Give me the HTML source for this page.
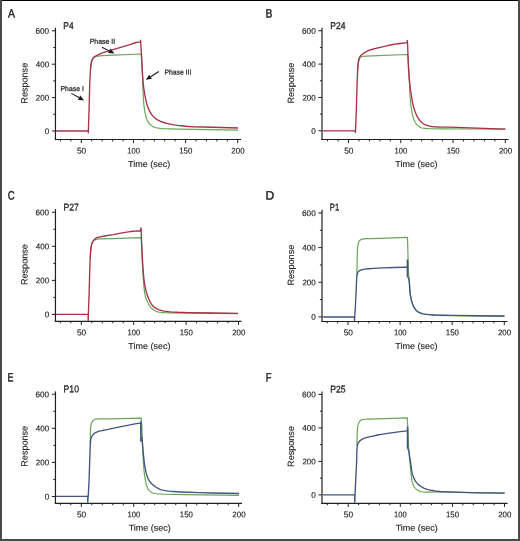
<!DOCTYPE html>
<html><head><meta charset="utf-8"><title>SPR sensorgrams</title>
<style>html,body{margin:0;padding:0;background:#fff;width:520px;height:541px;overflow:hidden}svg{display:block}</style>
</head><body>
<svg width="520" height="541" viewBox="0 0 520 541" font-family='"Liberation Sans", sans-serif' fill="#262626">
<rect x="0" y="0" width="520" height="541" fill="#ffffff"/>
<line x1="55.45" y1="27.70" x2="55.45" y2="140.10" stroke="#202020" stroke-width="1.20"/>
<line x1="54.85" y1="139.55" x2="241.00" y2="139.55" stroke="#202020" stroke-width="1.10"/>
<line x1="51.85" y1="131.00" x2="55.45" y2="131.00" stroke="#202020" stroke-width="1.00"/>
<line x1="53.35" y1="114.30" x2="55.45" y2="114.30" stroke="#202020" stroke-width="1.00"/>
<line x1="51.85" y1="97.60" x2="55.45" y2="97.60" stroke="#202020" stroke-width="1.00"/>
<line x1="53.35" y1="80.90" x2="55.45" y2="80.90" stroke="#202020" stroke-width="1.00"/>
<line x1="51.85" y1="64.20" x2="55.45" y2="64.20" stroke="#202020" stroke-width="1.00"/>
<line x1="53.35" y1="47.50" x2="55.45" y2="47.50" stroke="#202020" stroke-width="1.00"/>
<line x1="51.85" y1="30.80" x2="55.45" y2="30.80" stroke="#202020" stroke-width="1.00"/>
<line x1="60.45" y1="139.55" x2="60.45" y2="141.40" stroke="#202020" stroke-width="1.00"/>
<line x1="70.87" y1="139.55" x2="70.87" y2="141.40" stroke="#202020" stroke-width="1.00"/>
<line x1="81.30" y1="139.55" x2="81.30" y2="143.10" stroke="#202020" stroke-width="1.00"/>
<line x1="91.73" y1="139.55" x2="91.73" y2="141.40" stroke="#202020" stroke-width="1.00"/>
<line x1="102.15" y1="139.55" x2="102.15" y2="141.40" stroke="#202020" stroke-width="1.00"/>
<line x1="112.58" y1="139.55" x2="112.58" y2="141.40" stroke="#202020" stroke-width="1.00"/>
<line x1="123.01" y1="139.55" x2="123.01" y2="141.40" stroke="#202020" stroke-width="1.00"/>
<line x1="133.44" y1="139.55" x2="133.44" y2="143.10" stroke="#202020" stroke-width="1.00"/>
<line x1="143.86" y1="139.55" x2="143.86" y2="141.40" stroke="#202020" stroke-width="1.00"/>
<line x1="154.29" y1="139.55" x2="154.29" y2="141.40" stroke="#202020" stroke-width="1.00"/>
<line x1="164.72" y1="139.55" x2="164.72" y2="141.40" stroke="#202020" stroke-width="1.00"/>
<line x1="175.14" y1="139.55" x2="175.14" y2="141.40" stroke="#202020" stroke-width="1.00"/>
<line x1="185.57" y1="139.55" x2="185.57" y2="143.10" stroke="#202020" stroke-width="1.00"/>
<line x1="196.00" y1="139.55" x2="196.00" y2="141.40" stroke="#202020" stroke-width="1.00"/>
<line x1="206.42" y1="139.55" x2="206.42" y2="141.40" stroke="#202020" stroke-width="1.00"/>
<line x1="216.85" y1="139.55" x2="216.85" y2="141.40" stroke="#202020" stroke-width="1.00"/>
<line x1="227.28" y1="139.55" x2="227.28" y2="141.40" stroke="#202020" stroke-width="1.00"/>
<line x1="237.70" y1="139.55" x2="237.70" y2="143.10" stroke="#202020" stroke-width="1.00"/>
<line x1="322.00" y1="27.80" x2="322.00" y2="140.10" stroke="#202020" stroke-width="1.20"/>
<line x1="321.40" y1="139.55" x2="508.50" y2="139.55" stroke="#202020" stroke-width="1.10"/>
<line x1="318.40" y1="130.80" x2="322.00" y2="130.80" stroke="#202020" stroke-width="1.00"/>
<line x1="319.90" y1="114.12" x2="322.00" y2="114.12" stroke="#202020" stroke-width="1.00"/>
<line x1="318.40" y1="97.44" x2="322.00" y2="97.44" stroke="#202020" stroke-width="1.00"/>
<line x1="319.90" y1="80.76" x2="322.00" y2="80.76" stroke="#202020" stroke-width="1.00"/>
<line x1="318.40" y1="64.08" x2="322.00" y2="64.08" stroke="#202020" stroke-width="1.00"/>
<line x1="319.90" y1="47.40" x2="322.00" y2="47.40" stroke="#202020" stroke-width="1.00"/>
<line x1="318.40" y1="30.72" x2="322.00" y2="30.72" stroke="#202020" stroke-width="1.00"/>
<line x1="327.59" y1="139.55" x2="327.59" y2="141.40" stroke="#202020" stroke-width="1.00"/>
<line x1="338.05" y1="139.55" x2="338.05" y2="141.40" stroke="#202020" stroke-width="1.00"/>
<line x1="348.50" y1="139.55" x2="348.50" y2="143.10" stroke="#202020" stroke-width="1.00"/>
<line x1="358.95" y1="139.55" x2="358.95" y2="141.40" stroke="#202020" stroke-width="1.00"/>
<line x1="369.41" y1="139.55" x2="369.41" y2="141.40" stroke="#202020" stroke-width="1.00"/>
<line x1="379.86" y1="139.55" x2="379.86" y2="141.40" stroke="#202020" stroke-width="1.00"/>
<line x1="390.31" y1="139.55" x2="390.31" y2="141.40" stroke="#202020" stroke-width="1.00"/>
<line x1="400.76" y1="139.55" x2="400.76" y2="143.10" stroke="#202020" stroke-width="1.00"/>
<line x1="411.22" y1="139.55" x2="411.22" y2="141.40" stroke="#202020" stroke-width="1.00"/>
<line x1="421.67" y1="139.55" x2="421.67" y2="141.40" stroke="#202020" stroke-width="1.00"/>
<line x1="432.12" y1="139.55" x2="432.12" y2="141.40" stroke="#202020" stroke-width="1.00"/>
<line x1="442.58" y1="139.55" x2="442.58" y2="141.40" stroke="#202020" stroke-width="1.00"/>
<line x1="453.03" y1="139.55" x2="453.03" y2="143.10" stroke="#202020" stroke-width="1.00"/>
<line x1="463.48" y1="139.55" x2="463.48" y2="141.40" stroke="#202020" stroke-width="1.00"/>
<line x1="473.94" y1="139.55" x2="473.94" y2="141.40" stroke="#202020" stroke-width="1.00"/>
<line x1="484.39" y1="139.55" x2="484.39" y2="141.40" stroke="#202020" stroke-width="1.00"/>
<line x1="494.84" y1="139.55" x2="494.84" y2="141.40" stroke="#202020" stroke-width="1.00"/>
<line x1="505.29" y1="139.55" x2="505.29" y2="143.10" stroke="#202020" stroke-width="1.00"/>
<line x1="55.45" y1="209.20" x2="55.45" y2="321.95" stroke="#202020" stroke-width="1.20"/>
<line x1="54.85" y1="321.40" x2="241.50" y2="321.40" stroke="#202020" stroke-width="1.10"/>
<line x1="51.85" y1="314.40" x2="55.45" y2="314.40" stroke="#202020" stroke-width="1.00"/>
<line x1="53.35" y1="297.38" x2="55.45" y2="297.38" stroke="#202020" stroke-width="1.00"/>
<line x1="51.85" y1="280.36" x2="55.45" y2="280.36" stroke="#202020" stroke-width="1.00"/>
<line x1="53.35" y1="263.34" x2="55.45" y2="263.34" stroke="#202020" stroke-width="1.00"/>
<line x1="51.85" y1="246.32" x2="55.45" y2="246.32" stroke="#202020" stroke-width="1.00"/>
<line x1="53.35" y1="229.30" x2="55.45" y2="229.30" stroke="#202020" stroke-width="1.00"/>
<line x1="51.85" y1="212.28" x2="55.45" y2="212.28" stroke="#202020" stroke-width="1.00"/>
<line x1="60.34" y1="321.40" x2="60.34" y2="323.25" stroke="#202020" stroke-width="1.00"/>
<line x1="70.82" y1="321.40" x2="70.82" y2="323.25" stroke="#202020" stroke-width="1.00"/>
<line x1="81.30" y1="321.40" x2="81.30" y2="324.95" stroke="#202020" stroke-width="1.00"/>
<line x1="91.78" y1="321.40" x2="91.78" y2="323.25" stroke="#202020" stroke-width="1.00"/>
<line x1="102.26" y1="321.40" x2="102.26" y2="323.25" stroke="#202020" stroke-width="1.00"/>
<line x1="112.74" y1="321.40" x2="112.74" y2="323.25" stroke="#202020" stroke-width="1.00"/>
<line x1="123.22" y1="321.40" x2="123.22" y2="323.25" stroke="#202020" stroke-width="1.00"/>
<line x1="133.70" y1="321.40" x2="133.70" y2="324.95" stroke="#202020" stroke-width="1.00"/>
<line x1="144.18" y1="321.40" x2="144.18" y2="323.25" stroke="#202020" stroke-width="1.00"/>
<line x1="154.66" y1="321.40" x2="154.66" y2="323.25" stroke="#202020" stroke-width="1.00"/>
<line x1="165.14" y1="321.40" x2="165.14" y2="323.25" stroke="#202020" stroke-width="1.00"/>
<line x1="175.62" y1="321.40" x2="175.62" y2="323.25" stroke="#202020" stroke-width="1.00"/>
<line x1="186.10" y1="321.40" x2="186.10" y2="324.95" stroke="#202020" stroke-width="1.00"/>
<line x1="196.58" y1="321.40" x2="196.58" y2="323.25" stroke="#202020" stroke-width="1.00"/>
<line x1="207.06" y1="321.40" x2="207.06" y2="323.25" stroke="#202020" stroke-width="1.00"/>
<line x1="217.54" y1="321.40" x2="217.54" y2="323.25" stroke="#202020" stroke-width="1.00"/>
<line x1="228.02" y1="321.40" x2="228.02" y2="323.25" stroke="#202020" stroke-width="1.00"/>
<line x1="238.50" y1="321.40" x2="238.50" y2="324.95" stroke="#202020" stroke-width="1.00"/>
<line x1="322.00" y1="209.80" x2="322.00" y2="322.00" stroke="#202020" stroke-width="1.20"/>
<line x1="321.40" y1="321.45" x2="507.40" y2="321.45" stroke="#202020" stroke-width="1.10"/>
<line x1="318.40" y1="316.90" x2="322.00" y2="316.90" stroke="#202020" stroke-width="1.00"/>
<line x1="319.90" y1="299.58" x2="322.00" y2="299.58" stroke="#202020" stroke-width="1.00"/>
<line x1="318.40" y1="282.26" x2="322.00" y2="282.26" stroke="#202020" stroke-width="1.00"/>
<line x1="319.90" y1="264.94" x2="322.00" y2="264.94" stroke="#202020" stroke-width="1.00"/>
<line x1="318.40" y1="247.62" x2="322.00" y2="247.62" stroke="#202020" stroke-width="1.00"/>
<line x1="319.90" y1="230.30" x2="322.00" y2="230.30" stroke="#202020" stroke-width="1.00"/>
<line x1="318.40" y1="212.98" x2="322.00" y2="212.98" stroke="#202020" stroke-width="1.00"/>
<line x1="327.16" y1="321.45" x2="327.16" y2="323.30" stroke="#202020" stroke-width="1.00"/>
<line x1="337.58" y1="321.45" x2="337.58" y2="323.30" stroke="#202020" stroke-width="1.00"/>
<line x1="348.00" y1="321.45" x2="348.00" y2="325.00" stroke="#202020" stroke-width="1.00"/>
<line x1="358.42" y1="321.45" x2="358.42" y2="323.30" stroke="#202020" stroke-width="1.00"/>
<line x1="368.84" y1="321.45" x2="368.84" y2="323.30" stroke="#202020" stroke-width="1.00"/>
<line x1="379.26" y1="321.45" x2="379.26" y2="323.30" stroke="#202020" stroke-width="1.00"/>
<line x1="389.68" y1="321.45" x2="389.68" y2="323.30" stroke="#202020" stroke-width="1.00"/>
<line x1="400.10" y1="321.45" x2="400.10" y2="325.00" stroke="#202020" stroke-width="1.00"/>
<line x1="410.52" y1="321.45" x2="410.52" y2="323.30" stroke="#202020" stroke-width="1.00"/>
<line x1="420.94" y1="321.45" x2="420.94" y2="323.30" stroke="#202020" stroke-width="1.00"/>
<line x1="431.36" y1="321.45" x2="431.36" y2="323.30" stroke="#202020" stroke-width="1.00"/>
<line x1="441.78" y1="321.45" x2="441.78" y2="323.30" stroke="#202020" stroke-width="1.00"/>
<line x1="452.20" y1="321.45" x2="452.20" y2="325.00" stroke="#202020" stroke-width="1.00"/>
<line x1="462.62" y1="321.45" x2="462.62" y2="323.30" stroke="#202020" stroke-width="1.00"/>
<line x1="473.04" y1="321.45" x2="473.04" y2="323.30" stroke="#202020" stroke-width="1.00"/>
<line x1="483.46" y1="321.45" x2="483.46" y2="323.30" stroke="#202020" stroke-width="1.00"/>
<line x1="493.88" y1="321.45" x2="493.88" y2="323.30" stroke="#202020" stroke-width="1.00"/>
<line x1="504.30" y1="321.45" x2="504.30" y2="325.00" stroke="#202020" stroke-width="1.00"/>
<line x1="55.45" y1="391.40" x2="55.45" y2="503.90" stroke="#202020" stroke-width="1.20"/>
<line x1="54.85" y1="503.35" x2="242.00" y2="503.35" stroke="#202020" stroke-width="1.10"/>
<line x1="51.85" y1="496.50" x2="55.45" y2="496.50" stroke="#202020" stroke-width="1.00"/>
<line x1="53.35" y1="479.45" x2="55.45" y2="479.45" stroke="#202020" stroke-width="1.00"/>
<line x1="51.85" y1="462.40" x2="55.45" y2="462.40" stroke="#202020" stroke-width="1.00"/>
<line x1="53.35" y1="445.35" x2="55.45" y2="445.35" stroke="#202020" stroke-width="1.00"/>
<line x1="51.85" y1="428.30" x2="55.45" y2="428.30" stroke="#202020" stroke-width="1.00"/>
<line x1="53.35" y1="411.25" x2="55.45" y2="411.25" stroke="#202020" stroke-width="1.00"/>
<line x1="51.85" y1="394.20" x2="55.45" y2="394.20" stroke="#202020" stroke-width="1.00"/>
<line x1="60.31" y1="503.35" x2="60.31" y2="505.20" stroke="#202020" stroke-width="1.00"/>
<line x1="70.81" y1="503.35" x2="70.81" y2="505.20" stroke="#202020" stroke-width="1.00"/>
<line x1="81.30" y1="503.35" x2="81.30" y2="506.90" stroke="#202020" stroke-width="1.00"/>
<line x1="91.79" y1="503.35" x2="91.79" y2="505.20" stroke="#202020" stroke-width="1.00"/>
<line x1="102.29" y1="503.35" x2="102.29" y2="505.20" stroke="#202020" stroke-width="1.00"/>
<line x1="112.78" y1="503.35" x2="112.78" y2="505.20" stroke="#202020" stroke-width="1.00"/>
<line x1="123.27" y1="503.35" x2="123.27" y2="505.20" stroke="#202020" stroke-width="1.00"/>
<line x1="133.76" y1="503.35" x2="133.76" y2="506.90" stroke="#202020" stroke-width="1.00"/>
<line x1="144.26" y1="503.35" x2="144.26" y2="505.20" stroke="#202020" stroke-width="1.00"/>
<line x1="154.75" y1="503.35" x2="154.75" y2="505.20" stroke="#202020" stroke-width="1.00"/>
<line x1="165.24" y1="503.35" x2="165.24" y2="505.20" stroke="#202020" stroke-width="1.00"/>
<line x1="175.74" y1="503.35" x2="175.74" y2="505.20" stroke="#202020" stroke-width="1.00"/>
<line x1="186.23" y1="503.35" x2="186.23" y2="506.90" stroke="#202020" stroke-width="1.00"/>
<line x1="196.72" y1="503.35" x2="196.72" y2="505.20" stroke="#202020" stroke-width="1.00"/>
<line x1="207.22" y1="503.35" x2="207.22" y2="505.20" stroke="#202020" stroke-width="1.00"/>
<line x1="217.71" y1="503.35" x2="217.71" y2="505.20" stroke="#202020" stroke-width="1.00"/>
<line x1="228.20" y1="503.35" x2="228.20" y2="505.20" stroke="#202020" stroke-width="1.00"/>
<line x1="238.69" y1="503.35" x2="238.69" y2="506.90" stroke="#202020" stroke-width="1.00"/>
<line x1="322.00" y1="391.40" x2="322.00" y2="503.90" stroke="#202020" stroke-width="1.20"/>
<line x1="321.40" y1="503.35" x2="507.60" y2="503.35" stroke="#202020" stroke-width="1.10"/>
<line x1="318.40" y1="494.90" x2="322.00" y2="494.90" stroke="#202020" stroke-width="1.00"/>
<line x1="319.90" y1="478.15" x2="322.00" y2="478.15" stroke="#202020" stroke-width="1.00"/>
<line x1="318.40" y1="461.40" x2="322.00" y2="461.40" stroke="#202020" stroke-width="1.00"/>
<line x1="319.90" y1="444.65" x2="322.00" y2="444.65" stroke="#202020" stroke-width="1.00"/>
<line x1="318.40" y1="427.90" x2="322.00" y2="427.90" stroke="#202020" stroke-width="1.00"/>
<line x1="319.90" y1="411.15" x2="322.00" y2="411.15" stroke="#202020" stroke-width="1.00"/>
<line x1="318.40" y1="394.40" x2="322.00" y2="394.40" stroke="#202020" stroke-width="1.00"/>
<line x1="327.36" y1="503.35" x2="327.36" y2="505.20" stroke="#202020" stroke-width="1.00"/>
<line x1="337.78" y1="503.35" x2="337.78" y2="505.20" stroke="#202020" stroke-width="1.00"/>
<line x1="348.20" y1="503.35" x2="348.20" y2="506.90" stroke="#202020" stroke-width="1.00"/>
<line x1="358.62" y1="503.35" x2="358.62" y2="505.20" stroke="#202020" stroke-width="1.00"/>
<line x1="369.04" y1="503.35" x2="369.04" y2="505.20" stroke="#202020" stroke-width="1.00"/>
<line x1="379.46" y1="503.35" x2="379.46" y2="505.20" stroke="#202020" stroke-width="1.00"/>
<line x1="389.88" y1="503.35" x2="389.88" y2="505.20" stroke="#202020" stroke-width="1.00"/>
<line x1="400.30" y1="503.35" x2="400.30" y2="506.90" stroke="#202020" stroke-width="1.00"/>
<line x1="410.72" y1="503.35" x2="410.72" y2="505.20" stroke="#202020" stroke-width="1.00"/>
<line x1="421.14" y1="503.35" x2="421.14" y2="505.20" stroke="#202020" stroke-width="1.00"/>
<line x1="431.56" y1="503.35" x2="431.56" y2="505.20" stroke="#202020" stroke-width="1.00"/>
<line x1="441.98" y1="503.35" x2="441.98" y2="505.20" stroke="#202020" stroke-width="1.00"/>
<line x1="452.40" y1="503.35" x2="452.40" y2="506.90" stroke="#202020" stroke-width="1.00"/>
<line x1="462.82" y1="503.35" x2="462.82" y2="505.20" stroke="#202020" stroke-width="1.00"/>
<line x1="473.24" y1="503.35" x2="473.24" y2="505.20" stroke="#202020" stroke-width="1.00"/>
<line x1="483.66" y1="503.35" x2="483.66" y2="505.20" stroke="#202020" stroke-width="1.00"/>
<line x1="494.08" y1="503.35" x2="494.08" y2="505.20" stroke="#202020" stroke-width="1.00"/>
<line x1="504.50" y1="503.35" x2="504.50" y2="506.90" stroke="#202020" stroke-width="1.00"/>
<path d="M90.60 70.00 L90.90 65.82 L91.08 64.24 L91.48 62.18 L91.96 60.45 L92.27 59.68 L92.57 59.08 L92.98 58.40 L93.38 57.88 L93.83 57.43 L94.26 57.12 L94.78 56.83 L95.38 56.60 L96.82 56.23 L97.91 56.05 L99.66 55.87 L102.17 55.70 L113.85 55.11 L141.00 54.00  L141.32 55.91 L141.51 57.47 L141.73 60.18 L141.95 63.73 L142.42 74.50 L142.99 90.71 L143.48 100.07 L143.79 103.98 L144.40 108.89 L144.84 111.66 L145.31 113.94 L146.24 117.54 L146.63 118.78 L147.08 119.97 L147.75 121.34 L148.80 122.92 L150.01 124.32 L151.17 125.36 L152.20 126.10 L153.07 126.59 L154.23 127.09 L155.46 127.48 L157.02 127.87 L158.77 128.22 L160.55 128.45 L162.42 128.59 L170.19 128.94 L178.33 129.15 L238.00 130.20" fill="none" stroke="#6aa657" stroke-width="1.20" stroke-linejoin="round" stroke-linecap="butt"/>
<path d="M56.00 131.00 L88.20 131.00  L88.30 132.70  L89.04 110.56 L89.68 86.05 L89.88 80.66 L90.35 71.82 L90.72 66.80 L91.12 63.74 L91.43 62.24 L91.76 60.98 L92.16 59.91 L92.68 58.87 L93.13 58.17 L93.72 57.47 L94.37 56.86 L95.06 56.38 L97.31 55.18 L99.22 54.24 L101.29 53.31 L103.00 52.64 L104.84 52.05 L118.14 48.14 L128.13 45.14 L131.33 44.12 L135.13 42.75 L136.09 42.51 L137.08 42.33 L140.50 41.90  L140.60 40.20 L140.70 41.90  L141.64 57.69 L142.32 71.27 L142.89 79.30 L143.23 83.27 L143.63 87.07 L144.19 91.13 L144.82 94.91 L145.84 99.82 L146.82 103.83 L147.64 106.48 L148.88 109.63 L149.99 111.90 L150.61 112.97 L151.30 114.00 L152.22 115.19 L153.02 116.11 L153.86 116.98 L154.75 117.80 L156.40 119.10 L157.17 119.61 L158.26 120.22 L160.56 121.29 L163.76 122.50 L166.61 123.32 L171.46 124.42 L174.32 124.95 L177.53 125.40 L181.05 125.79 L185.60 126.21 L190.17 126.56 L193.99 126.77 L221.50 127.50 L238.00 128.00" fill="none" stroke="#a8304a" stroke-width="1.35" stroke-linejoin="round" stroke-linecap="butt"/>
<path d="M357.80 70.00 L358.06 66.21 L358.23 64.48 L358.67 61.74 L359.05 60.05 L359.48 58.81 L359.79 58.19 L360.08 57.74 L360.41 57.36 L360.73 57.10 L361.05 56.91 L361.48 56.74 L362.50 56.50 L363.39 56.36 L366.18 56.15 L372.10 55.94 L407.40 54.50  L407.69 55.46 L407.84 56.25 L408.13 59.49 L409.25 78.86 L409.72 88.45 L410.00 95.43 L410.17 98.26 L410.74 104.15 L411.39 109.01 L412.03 112.54 L412.68 115.48 L413.29 117.62 L414.21 120.06 L414.77 121.31 L415.25 122.27 L416.20 123.81 L416.77 124.53 L417.48 125.32 L418.08 125.90 L418.72 126.43 L419.57 127.01 L420.30 127.40 L421.16 127.74 L422.07 127.98 L423.53 128.22 L426.40 128.53 L429.01 128.71 L442.60 128.90 L468.49 128.99 L505.30 129.20" fill="none" stroke="#6aa657" stroke-width="1.20" stroke-linejoin="round" stroke-linecap="butt"/>
<path d="M323.00 130.80 L355.30 130.80  L355.40 132.50  L356.30 111.70 L357.12 83.23 L357.48 74.13 L357.74 68.56 L358.05 64.45 L358.32 62.07 L358.53 60.62 L358.76 59.51 L359.01 58.65 L359.34 57.79 L359.73 57.04 L360.05 56.52 L360.45 56.03 L361.77 54.75 L363.32 53.48 L365.01 52.33 L366.38 51.55 L367.92 50.83 L369.48 50.23 L371.73 49.51 L374.78 48.63 L379.10 47.55 L386.52 45.88 L391.80 44.78 L395.15 44.16 L397.96 43.72 L407.20 42.60  L407.30 40.40 L407.50 42.90  L407.72 47.58 L408.27 63.10 L408.72 71.52 L409.16 77.74 L409.64 82.73 L410.32 88.38 L411.40 95.75 L412.26 101.01 L413.00 104.58 L413.54 106.73 L414.11 108.71 L415.15 111.81 L416.46 114.99 L417.54 117.14 L418.10 118.05 L418.73 118.97 L419.63 120.14 L420.40 121.05 L421.22 121.92 L422.08 122.73 L423.20 123.60 L424.33 124.28 L425.79 124.96 L427.29 125.50 L429.21 126.06 L430.39 126.31 L431.72 126.50 L434.49 126.74 L439.26 126.96 L449.29 127.18 L470.00 127.80 L505.30 129.20" fill="none" stroke="#a8304a" stroke-width="1.35" stroke-linejoin="round" stroke-linecap="butt"/>
<path d="M90.20 258.00 L90.49 253.28 L90.92 248.68 L91.23 246.30 L91.67 244.34 L91.95 243.42 L92.26 242.58 L92.58 241.95 L92.94 241.41 L93.38 240.88 L93.96 240.35 L94.61 239.91 L95.21 239.61 L96.16 239.33 L97.70 239.10 L99.06 238.96 L101.31 238.82 L113.04 238.53 L141.20 237.60  L141.41 241.24 L141.67 248.44 L142.10 257.99 L142.92 272.95 L143.29 278.58 L143.73 284.14 L144.32 290.44 L144.65 292.98 L145.20 295.61 L145.82 297.87 L146.59 300.03 L147.58 302.23 L148.72 304.30 L150.38 306.79 L151.52 308.18 L152.16 308.81 L152.68 309.24 L153.86 310.04 L155.15 310.73 L156.49 311.31 L158.01 311.82 L159.00 312.07 L160.18 312.25 L163.13 312.54 L164.89 312.66 L168.89 312.78 L185.95 313.06 L238.00 313.60" fill="none" stroke="#6aa657" stroke-width="1.20" stroke-linejoin="round" stroke-linecap="butt"/>
<path d="M56.00 314.40 L88.10 314.40  L88.20 320.60  L88.52 309.43 L89.13 293.94 L89.79 268.23 L90.30 256.32 L90.76 250.14 L90.96 248.15 L91.18 246.59 L91.47 245.07 L91.84 243.69 L92.22 242.61 L92.69 241.66 L93.19 240.91 L93.98 240.01 L94.87 239.09 L95.69 238.41 L96.36 237.98 L97.09 237.63 L97.94 237.34 L99.11 237.04 L104.44 235.99 L113.32 234.58 L123.54 232.71 L130.18 231.64 L132.83 231.29 L135.14 231.06 L136.94 230.97 L140.60 230.90  L140.88 228.37 L141.00 227.80 L141.08 228.38 L141.20 230.90  L141.44 238.00 L142.44 258.95 L142.94 267.47 L143.38 273.21 L143.77 277.42 L144.34 282.23 L144.84 285.58 L145.44 288.60 L146.27 291.75 L147.65 296.10 L148.19 297.61 L148.78 299.08 L150.19 302.05 L150.78 303.13 L151.30 303.95 L151.85 304.72 L152.57 305.56 L153.18 306.18 L153.98 306.91 L155.36 307.95 L156.87 308.85 L158.53 309.58 L160.77 310.33 L162.65 310.80 L164.68 311.16 L168.32 311.64 L171.04 311.91 L177.78 312.28 L187.97 312.57 L211.74 313.02 L238.00 313.40" fill="none" stroke="#a8304a" stroke-width="1.35" stroke-linejoin="round" stroke-linecap="butt"/>
<path d="M356.90 276.10 L357.09 264.42 L357.35 253.27 L357.46 249.93 L357.62 247.53 L357.96 244.75 L358.36 243.03 L358.74 241.96 L359.10 241.20 L359.50 240.62 L359.92 240.21 L360.42 239.88 L360.98 239.62 L361.90 239.30 L362.54 239.13 L363.78 238.95 L366.80 238.71 L369.96 238.57 L379.80 238.30 L407.50 237.30  L408.28 266.14 L408.44 270.83 L408.64 274.10 L409.60 286.00 L409.89 291.01 L410.10 293.10 L410.57 296.21 L411.12 299.00 L411.98 302.18 L412.79 304.65 L413.21 305.69 L413.68 306.67 L414.73 308.47 L415.78 309.89 L416.37 310.52 L417.00 311.10 L418.20 311.94 L419.53 312.62 L421.39 313.33 L422.86 313.74 L424.75 314.08 L430.01 314.75 L432.49 315.01 L435.00 315.20 L440.73 315.42 L463.68 315.89 L504.50 316.50" fill="none" stroke="#6aa657" stroke-width="1.20" stroke-linejoin="round" stroke-linecap="butt"/>
<path d="M323.00 317.00 L354.40 317.00  L354.50 320.60  L355.15 310.33 L355.64 301.54 L356.58 280.26 L356.75 277.57 L357.04 275.10 L357.36 273.48 L357.56 272.91 L357.84 272.29 L358.11 271.85 L358.44 271.46 L358.95 271.02 L359.70 270.60 L360.88 270.09 L361.92 269.76 L363.34 269.43 L364.81 269.17 L368.71 268.72 L373.48 268.41 L383.59 267.93 L394.72 267.54 L406.90 267.20  L407.50 267.20 M407.50 276.70 L408.20 277.52 L408.47 277.93 L408.71 278.53 L408.92 279.45 L409.16 280.88 L409.32 282.37 L409.64 286.56 L409.92 291.30 L410.27 294.34 L410.68 296.84 L411.20 299.30 L411.81 301.62 L412.50 303.85 L413.10 305.44 L413.80 306.90 L414.73 308.47 L415.64 309.72 L416.52 310.67 L417.50 311.48 L418.57 312.15 L419.93 312.79 L421.17 313.26 L422.35 313.62 L423.39 313.85 L424.75 314.08 L431.09 314.83 L433.69 315.02 L436.58 315.17 L441.36 315.29 L452.33 315.43 L504.50 316.00" fill="none" stroke="#415580" stroke-width="1.35" stroke-linejoin="round" stroke-linecap="butt"/>
<path d="M90.20 444.00 L90.33 433.90 L90.42 430.60 L90.60 427.90 L90.92 425.35 L91.13 424.32 L91.35 423.55 L91.67 422.73 L92.03 422.07 L92.61 421.26 L93.19 420.63 L93.78 420.14 L94.40 419.78 L95.25 419.44 L96.30 419.20 L97.54 419.04 L99.66 418.92 L111.05 418.82 L141.20 418.10  L141.62 423.75 L141.84 427.60 L142.25 437.66 L142.68 450.06 L143.10 458.32 L143.67 466.56 L144.04 470.70 L144.39 473.85 L145.02 478.22 L145.57 481.28 L146.10 483.50 L146.99 486.56 L147.53 487.96 L148.20 489.20 L148.75 489.98 L149.23 490.56 L149.75 491.09 L150.31 491.57 L151.07 492.11 L151.99 492.59 L153.01 492.96 L154.13 493.24 L155.65 493.49 L158.28 493.85 L160.27 494.02 L163.27 494.18 L184.53 494.69 L239.00 495.40" fill="none" stroke="#6aa657" stroke-width="1.20" stroke-linejoin="round" stroke-linecap="butt"/>
<path d="M56.00 496.30 L87.70 496.30  L87.80 502.30  L88.46 492.15 L89.05 480.48 L89.35 472.32 L90.08 449.02 L90.27 444.95 L90.55 441.25 L90.86 439.19 L91.13 438.09 L91.44 437.17 L91.78 436.41 L92.23 435.66 L92.86 434.84 L93.50 434.16 L94.15 433.60 L94.99 433.01 L96.08 432.38 L97.35 431.77 L98.35 431.38 L99.35 431.09 L101.73 430.55 L105.09 430.03 L107.04 429.65 L117.30 427.41 L128.78 425.07 L133.50 424.21 L136.60 423.70 L138.52 423.44 L140.60 423.30 M142.00 437.00 L142.95 449.53 L143.53 455.42 L144.29 462.43 L144.83 466.29 L145.24 468.73 L146.06 472.50 L146.74 475.09 L147.48 477.22 L148.30 478.98 L148.82 479.92 L149.52 481.04 L150.74 482.70 L152.02 484.10 L153.41 485.34 L155.30 486.74 L157.21 487.95 L158.57 488.68 L160.00 489.31 L161.36 489.78 L162.87 490.17 L165.10 490.58 L168.65 491.09 L170.93 491.34 L173.57 491.54 L181.13 491.97 L199.31 492.68 L211.49 492.97 L239.00 493.50" fill="none" stroke="#415580" stroke-width="1.35" stroke-linejoin="round" stroke-linecap="butt"/>
<path d="M356.90 445.80 L357.31 431.89 L357.50 429.10 L357.85 426.23 L358.08 425.08 L358.37 424.02 L358.66 423.16 L358.98 422.48 L359.45 421.72 L360.02 420.99 L360.52 420.50 L361.10 420.10 L361.84 419.78 L362.81 419.55 L365.08 419.26 L366.80 419.13 L369.31 419.04 L377.80 418.90 L407.30 417.80  L408.17 437.53 L408.63 446.18 L408.97 451.53 L409.41 457.11 L410.30 466.76 L411.58 478.27 L411.92 480.51 L412.28 482.15 L412.76 483.68 L413.32 485.15 L413.97 486.47 L414.61 487.47 L415.36 488.37 L416.41 489.32 L417.39 490.02 L418.45 490.62 L419.55 491.13 L420.73 491.53 L421.74 491.75 L422.79 491.89 L426.73 492.12 L429.54 492.14 L440.33 491.90 L444.68 491.92 L470.00 492.60 L504.70 493.20" fill="none" stroke="#6aa657" stroke-width="1.20" stroke-linejoin="round" stroke-linecap="butt"/>
<path d="M323.00 494.90 L354.70 494.90  L354.80 502.30  L355.15 492.14 L356.60 462.30 L356.85 452.21 L356.99 448.82 L357.24 446.36 L357.57 444.74 L358.06 443.36 L358.36 442.82 L358.81 442.16 L359.56 441.22 L360.24 440.53 L361.00 439.90 L361.87 439.35 L363.07 438.76 L364.58 438.16 L366.38 437.55 L367.88 437.16 L371.75 436.36 L377.80 435.00 L381.45 434.33 L386.10 433.55 L390.70 432.86 L394.88 432.30 L402.14 431.44 L407.20 430.90 M407.60 448.60 L408.54 450.19 L408.80 450.86 L408.97 451.55 L409.13 452.52 L409.47 455.29 L410.47 461.87 L411.77 471.09 L412.13 472.72 L412.65 474.63 L413.18 476.29 L413.67 477.62 L414.49 479.39 L415.43 481.05 L416.39 482.41 L417.42 483.58 L418.80 484.88 L420.51 486.20 L422.12 487.22 L423.81 488.09 L425.42 488.75 L427.04 489.30 L429.10 489.84 L431.32 490.29 L435.00 490.90 L437.51 491.24 L439.99 491.48 L443.82 491.75 L452.95 492.14 L471.36 492.63 L482.69 492.86 L504.70 493.20" fill="none" stroke="#415580" stroke-width="1.35" stroke-linejoin="round" stroke-linecap="butt"/>
<line x1="407.50" y1="259.50" x2="407.50" y2="276.80" stroke="#415580" stroke-width="1.70"/>
<line x1="140.90" y1="421.20" x2="140.90" y2="441.70" stroke="#415580" stroke-width="1.70"/>
<line x1="407.60" y1="426.70" x2="407.60" y2="448.60" stroke="#415580" stroke-width="1.70"/>
<line x1="102.00" y1="47.20" x2="109.67" y2="51.10" stroke="#151515" stroke-width="1.05"/>
<path d="M114.40 53.50 L108.01 53.06 L109.67 51.10 L110.27 48.60 Z" fill="#151515"/>
<line x1="71.40" y1="93.40" x2="79.37" y2="97.83" stroke="#151515" stroke-width="1.05"/>
<path d="M84.00 100.40 L77.63 99.72 L79.37 97.83 L80.06 95.35 Z" fill="#151515"/>
<line x1="158.80" y1="71.50" x2="150.27" y2="76.95" stroke="#151515" stroke-width="1.05"/>
<path d="M145.80 79.80 L149.43 74.52 L150.27 76.95 L152.12 78.73 Z" fill="#151515"/>
<g style="filter:grayscale(1)">
<text x="44.63" y="133.96" transform="rotate(0.05 44.63 133.96)" font-size="8.20" textLength="4.54" lengthAdjust="spacingAndGlyphs" stroke="#262626" stroke-width="0.15">0</text>
<text x="35.85" y="100.56" transform="rotate(0.05 35.85 100.56)" font-size="8.20" textLength="13.31" lengthAdjust="spacingAndGlyphs" stroke="#262626" stroke-width="0.15">200</text>
<text x="35.77" y="67.16" transform="rotate(0.05 35.77 67.16)" font-size="8.20" textLength="13.40" lengthAdjust="spacingAndGlyphs" stroke="#262626" stroke-width="0.15">400</text>
<text x="35.53" y="33.76" transform="rotate(0.05 35.53 33.76)" font-size="8.20" textLength="13.64" lengthAdjust="spacingAndGlyphs" stroke="#262626" stroke-width="0.15">600</text>
<text x="76.97" y="153.45" transform="rotate(0.05 76.97 153.45)" font-size="8.20" textLength="9.26" lengthAdjust="spacingAndGlyphs" stroke="#262626" stroke-width="0.15">50</text>
<text x="127.26" y="153.45" transform="rotate(0.05 127.26 153.45)" font-size="8.20" textLength="12.68" lengthAdjust="spacingAndGlyphs" stroke="#262626" stroke-width="0.15">100</text>
<text x="179.17" y="153.45" transform="rotate(0.05 179.17 153.45)" font-size="8.20" textLength="13.11" lengthAdjust="spacingAndGlyphs" stroke="#262626" stroke-width="0.15">150</text>
<text x="231.36" y="153.45" transform="rotate(0.05 231.36 153.45)" font-size="8.20" textLength="13.21" lengthAdjust="spacingAndGlyphs" stroke="#262626" stroke-width="0.15">200</text>
<text transform="translate(27.45 103.64) rotate(-89.95)" font-size="9.10" textLength="40.84" lengthAdjust="spacingAndGlyphs" stroke="#262626" stroke-width="0.15">Response</text>
<text x="128.10" y="167.05" transform="rotate(0.05 128.10 167.05)" font-size="8.80" textLength="42.16" lengthAdjust="spacingAndGlyphs" stroke="#262626" stroke-width="0.15">Time (sec)</text>
<text x="7.98" y="17.50" transform="rotate(0.05 7.98 17.50)" font-size="12.10" textLength="6.94" lengthAdjust="spacingAndGlyphs" stroke="#262626" stroke-width="0.45">A</text>
<text x="63.31" y="28.90" transform="rotate(0.05 63.31 28.90)" font-size="9.80" textLength="10.23" lengthAdjust="spacingAndGlyphs" stroke="#262626" stroke-width="0.30">P4</text>
<text x="311.18" y="133.76" transform="rotate(0.05 311.18 133.76)" font-size="8.20" textLength="4.54" lengthAdjust="spacingAndGlyphs" stroke="#262626" stroke-width="0.15">0</text>
<text x="302.40" y="100.40" transform="rotate(0.05 302.40 100.40)" font-size="8.20" textLength="13.31" lengthAdjust="spacingAndGlyphs" stroke="#262626" stroke-width="0.15">200</text>
<text x="302.32" y="67.04" transform="rotate(0.05 302.32 67.04)" font-size="8.20" textLength="13.40" lengthAdjust="spacingAndGlyphs" stroke="#262626" stroke-width="0.15">400</text>
<text x="302.08" y="33.68" transform="rotate(0.05 302.08 33.68)" font-size="8.20" textLength="13.64" lengthAdjust="spacingAndGlyphs" stroke="#262626" stroke-width="0.15">600</text>
<text x="344.17" y="153.45" transform="rotate(0.05 344.17 153.45)" font-size="8.20" textLength="9.26" lengthAdjust="spacingAndGlyphs" stroke="#262626" stroke-width="0.15">50</text>
<text x="394.59" y="153.45" transform="rotate(0.05 394.59 153.45)" font-size="8.20" textLength="12.68" lengthAdjust="spacingAndGlyphs" stroke="#262626" stroke-width="0.15">100</text>
<text x="446.63" y="153.45" transform="rotate(0.05 446.63 153.45)" font-size="8.20" textLength="13.11" lengthAdjust="spacingAndGlyphs" stroke="#262626" stroke-width="0.15">150</text>
<text x="498.95" y="153.45" transform="rotate(0.05 498.95 153.45)" font-size="8.20" textLength="13.21" lengthAdjust="spacingAndGlyphs" stroke="#262626" stroke-width="0.15">200</text>
<text transform="translate(294.00 103.49) rotate(-89.95)" font-size="9.10" textLength="40.84" lengthAdjust="spacingAndGlyphs" stroke="#262626" stroke-width="0.15">Response</text>
<text x="395.30" y="167.05" transform="rotate(0.05 395.30 167.05)" font-size="8.80" textLength="42.16" lengthAdjust="spacingAndGlyphs" stroke="#262626" stroke-width="0.15">Time (sec)</text>
<text x="265.55" y="17.50" transform="rotate(0.05 265.55 17.50)" font-size="12.10" textLength="6.90" lengthAdjust="spacingAndGlyphs" stroke="#262626" stroke-width="0.45">B</text>
<text x="330.30" y="28.90" transform="rotate(0.05 330.30 28.90)" font-size="9.80" textLength="15.25" lengthAdjust="spacingAndGlyphs" stroke="#262626" stroke-width="0.30">P24</text>
<text x="44.63" y="317.36" transform="rotate(0.05 44.63 317.36)" font-size="8.20" textLength="4.54" lengthAdjust="spacingAndGlyphs" stroke="#262626" stroke-width="0.15">0</text>
<text x="35.85" y="283.32" transform="rotate(0.05 35.85 283.32)" font-size="8.20" textLength="13.31" lengthAdjust="spacingAndGlyphs" stroke="#262626" stroke-width="0.15">200</text>
<text x="35.77" y="249.28" transform="rotate(0.05 35.77 249.28)" font-size="8.20" textLength="13.40" lengthAdjust="spacingAndGlyphs" stroke="#262626" stroke-width="0.15">400</text>
<text x="35.53" y="215.24" transform="rotate(0.05 35.53 215.24)" font-size="8.20" textLength="13.64" lengthAdjust="spacingAndGlyphs" stroke="#262626" stroke-width="0.15">600</text>
<text x="76.97" y="335.30" transform="rotate(0.05 76.97 335.30)" font-size="8.20" textLength="9.26" lengthAdjust="spacingAndGlyphs" stroke="#262626" stroke-width="0.15">50</text>
<text x="127.52" y="335.30" transform="rotate(0.05 127.52 335.30)" font-size="8.20" textLength="12.68" lengthAdjust="spacingAndGlyphs" stroke="#262626" stroke-width="0.15">100</text>
<text x="179.70" y="335.30" transform="rotate(0.05 179.70 335.30)" font-size="8.20" textLength="13.11" lengthAdjust="spacingAndGlyphs" stroke="#262626" stroke-width="0.15">150</text>
<text x="232.15" y="335.30" transform="rotate(0.05 232.15 335.30)" font-size="8.20" textLength="13.21" lengthAdjust="spacingAndGlyphs" stroke="#262626" stroke-width="0.15">200</text>
<text transform="translate(27.45 285.04) rotate(-89.95)" font-size="9.10" textLength="40.84" lengthAdjust="spacingAndGlyphs" stroke="#262626" stroke-width="0.15">Response</text>
<text x="128.30" y="348.90" transform="rotate(0.05 128.30 348.90)" font-size="8.80" textLength="42.16" lengthAdjust="spacingAndGlyphs" stroke="#262626" stroke-width="0.15">Time (sec)</text>
<text x="7.71" y="199.60" transform="rotate(0.05 7.71 199.60)" font-size="12.10" textLength="6.96" lengthAdjust="spacingAndGlyphs" stroke="#262626" stroke-width="0.45">C</text>
<text x="63.59" y="210.50" transform="rotate(0.05 63.59 210.50)" font-size="9.80" textLength="15.34" lengthAdjust="spacingAndGlyphs" stroke="#262626" stroke-width="0.30">P27</text>
<text x="311.18" y="319.86" transform="rotate(0.05 311.18 319.86)" font-size="8.20" textLength="4.54" lengthAdjust="spacingAndGlyphs" stroke="#262626" stroke-width="0.15">0</text>
<text x="302.40" y="285.22" transform="rotate(0.05 302.40 285.22)" font-size="8.20" textLength="13.31" lengthAdjust="spacingAndGlyphs" stroke="#262626" stroke-width="0.15">200</text>
<text x="302.32" y="250.58" transform="rotate(0.05 302.32 250.58)" font-size="8.20" textLength="13.40" lengthAdjust="spacingAndGlyphs" stroke="#262626" stroke-width="0.15">400</text>
<text x="302.08" y="215.94" transform="rotate(0.05 302.08 215.94)" font-size="8.20" textLength="13.64" lengthAdjust="spacingAndGlyphs" stroke="#262626" stroke-width="0.15">600</text>
<text x="343.67" y="335.35" transform="rotate(0.05 343.67 335.35)" font-size="8.20" textLength="9.26" lengthAdjust="spacingAndGlyphs" stroke="#262626" stroke-width="0.15">50</text>
<text x="393.92" y="335.35" transform="rotate(0.05 393.92 335.35)" font-size="8.20" textLength="12.68" lengthAdjust="spacingAndGlyphs" stroke="#262626" stroke-width="0.15">100</text>
<text x="445.80" y="335.35" transform="rotate(0.05 445.80 335.35)" font-size="8.20" textLength="13.11" lengthAdjust="spacingAndGlyphs" stroke="#262626" stroke-width="0.15">150</text>
<text x="497.95" y="335.35" transform="rotate(0.05 497.95 335.35)" font-size="8.20" textLength="13.21" lengthAdjust="spacingAndGlyphs" stroke="#262626" stroke-width="0.15">200</text>
<text transform="translate(294.00 285.59) rotate(-89.95)" font-size="9.10" textLength="40.84" lengthAdjust="spacingAndGlyphs" stroke="#262626" stroke-width="0.15">Response</text>
<text x="395.30" y="348.95" transform="rotate(0.05 395.30 348.95)" font-size="8.80" textLength="42.16" lengthAdjust="spacingAndGlyphs" stroke="#262626" stroke-width="0.15">Time (sec)</text>
<text x="265.40" y="199.50" transform="rotate(0.05 265.40 199.50)" font-size="12.10" textLength="8.78" lengthAdjust="spacingAndGlyphs" stroke="#262626" stroke-width="0.45">D</text>
<text x="329.77" y="210.40" transform="rotate(0.05 329.77 210.40)" font-size="9.80" textLength="9.41" lengthAdjust="spacingAndGlyphs" stroke="#262626" stroke-width="0.30">P1</text>
<text x="44.63" y="499.46" transform="rotate(0.05 44.63 499.46)" font-size="8.20" textLength="4.54" lengthAdjust="spacingAndGlyphs" stroke="#262626" stroke-width="0.15">0</text>
<text x="35.85" y="465.36" transform="rotate(0.05 35.85 465.36)" font-size="8.20" textLength="13.31" lengthAdjust="spacingAndGlyphs" stroke="#262626" stroke-width="0.15">200</text>
<text x="35.77" y="431.26" transform="rotate(0.05 35.77 431.26)" font-size="8.20" textLength="13.40" lengthAdjust="spacingAndGlyphs" stroke="#262626" stroke-width="0.15">400</text>
<text x="35.53" y="397.16" transform="rotate(0.05 35.53 397.16)" font-size="8.20" textLength="13.64" lengthAdjust="spacingAndGlyphs" stroke="#262626" stroke-width="0.15">600</text>
<text x="76.97" y="517.25" transform="rotate(0.05 76.97 517.25)" font-size="8.20" textLength="9.26" lengthAdjust="spacingAndGlyphs" stroke="#262626" stroke-width="0.15">50</text>
<text x="127.59" y="517.25" transform="rotate(0.05 127.59 517.25)" font-size="8.20" textLength="12.68" lengthAdjust="spacingAndGlyphs" stroke="#262626" stroke-width="0.15">100</text>
<text x="179.83" y="517.25" transform="rotate(0.05 179.83 517.25)" font-size="8.20" textLength="13.11" lengthAdjust="spacingAndGlyphs" stroke="#262626" stroke-width="0.15">150</text>
<text x="232.35" y="517.25" transform="rotate(0.05 232.35 517.25)" font-size="8.20" textLength="13.21" lengthAdjust="spacingAndGlyphs" stroke="#262626" stroke-width="0.15">200</text>
<text transform="translate(27.45 466.69) rotate(-89.95)" font-size="9.10" textLength="40.84" lengthAdjust="spacingAndGlyphs" stroke="#262626" stroke-width="0.15">Response</text>
<text x="128.70" y="530.85" transform="rotate(0.05 128.70 530.85)" font-size="8.80" textLength="42.16" lengthAdjust="spacingAndGlyphs" stroke="#262626" stroke-width="0.15">Time (sec)</text>
<text x="7.47" y="381.50" transform="rotate(0.05 7.47 381.50)" font-size="12.10" textLength="5.91" lengthAdjust="spacingAndGlyphs" stroke="#262626" stroke-width="0.45">E</text>
<text x="63.59" y="392.30" transform="rotate(0.05 63.59 392.30)" font-size="9.80" textLength="15.45" lengthAdjust="spacingAndGlyphs" stroke="#262626" stroke-width="0.30">P10</text>
<text x="311.18" y="497.86" transform="rotate(0.05 311.18 497.86)" font-size="8.20" textLength="4.54" lengthAdjust="spacingAndGlyphs" stroke="#262626" stroke-width="0.15">0</text>
<text x="302.40" y="464.36" transform="rotate(0.05 302.40 464.36)" font-size="8.20" textLength="13.31" lengthAdjust="spacingAndGlyphs" stroke="#262626" stroke-width="0.15">200</text>
<text x="302.32" y="430.86" transform="rotate(0.05 302.32 430.86)" font-size="8.20" textLength="13.40" lengthAdjust="spacingAndGlyphs" stroke="#262626" stroke-width="0.15">400</text>
<text x="302.08" y="397.36" transform="rotate(0.05 302.08 397.36)" font-size="8.20" textLength="13.64" lengthAdjust="spacingAndGlyphs" stroke="#262626" stroke-width="0.15">600</text>
<text x="343.87" y="517.25" transform="rotate(0.05 343.87 517.25)" font-size="8.20" textLength="9.26" lengthAdjust="spacingAndGlyphs" stroke="#262626" stroke-width="0.15">50</text>
<text x="394.12" y="517.25" transform="rotate(0.05 394.12 517.25)" font-size="8.20" textLength="12.68" lengthAdjust="spacingAndGlyphs" stroke="#262626" stroke-width="0.15">100</text>
<text x="446.00" y="517.25" transform="rotate(0.05 446.00 517.25)" font-size="8.20" textLength="13.11" lengthAdjust="spacingAndGlyphs" stroke="#262626" stroke-width="0.15">150</text>
<text x="498.15" y="517.25" transform="rotate(0.05 498.15 517.25)" font-size="8.20" textLength="13.21" lengthAdjust="spacingAndGlyphs" stroke="#262626" stroke-width="0.15">200</text>
<text transform="translate(294.00 466.89) rotate(-89.95)" font-size="9.10" textLength="40.84" lengthAdjust="spacingAndGlyphs" stroke="#262626" stroke-width="0.15">Response</text>
<text x="395.70" y="530.85" transform="rotate(0.05 395.70 530.85)" font-size="8.80" textLength="42.16" lengthAdjust="spacingAndGlyphs" stroke="#262626" stroke-width="0.15">Time (sec)</text>
<text x="265.63" y="381.50" transform="rotate(0.05 265.63 381.50)" font-size="12.10" textLength="5.75" lengthAdjust="spacingAndGlyphs" stroke="#262626" stroke-width="0.45">F</text>
<text x="330.29" y="392.40" transform="rotate(0.05 330.29 392.40)" font-size="9.80" textLength="15.37" lengthAdjust="spacingAndGlyphs" stroke="#262626" stroke-width="0.30">P25</text>
<text x="89.73" y="43.80" transform="rotate(0.05 89.73 43.80)" font-size="7.00" textLength="25.51" lengthAdjust="spacingAndGlyphs" stroke="#262626" stroke-width="0.25">Phase II</text>
<text x="60.54" y="90.90" transform="rotate(0.05 60.54 90.90)" font-size="7.00" textLength="23.30" lengthAdjust="spacingAndGlyphs" stroke="#262626" stroke-width="0.25">Phase I</text>
<text x="164.54" y="74.40" transform="rotate(0.05 164.54 74.40)" font-size="7.00" textLength="26.78" lengthAdjust="spacingAndGlyphs" stroke="#262626" stroke-width="0.25">Phase III</text>
</g>
<rect x="0" y="0" width="520" height="1" fill="#000"/>
<rect x="0" y="0" width="2" height="541" fill="#4a4a4a"/>
<rect x="518" y="0" width="2" height="541" fill="#4a4a4a"/>
<rect x="0" y="539" width="520" height="2" fill="#4a4a4a"/>
</svg>
</body></html>
